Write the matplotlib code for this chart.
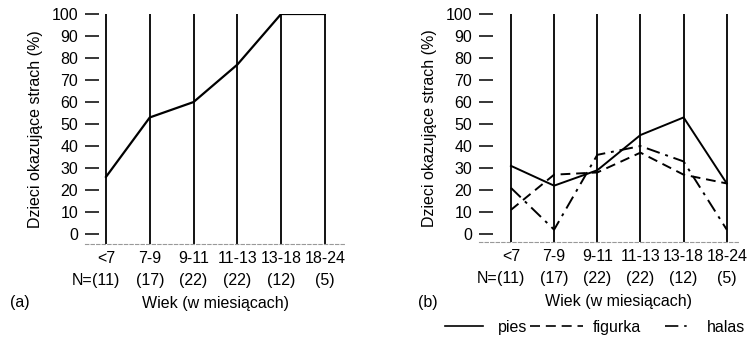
import numpy as np
import matplotlib
matplotlib.use("Agg")
import matplotlib.pyplot as plt
from matplotlib.lines import Line2D

plt.rcParams['font.family'] = ['Liberation Sans', 'DejaVu Sans']

# dane
kategorie = ['<7', '7-9', '9-11', '11-13', '13-18', '18-24']
n_dzieci = [11, 17, 22, 22, 12, 5]
ogolem = [26, 53, 60, 77, 100, 100]
pies = [31, 22, 29, 45, 53, 23]
figurka = [11, 27, 28, 37, 27, 23]
halas = [21, 2, 36, 40, 33, 2]
yticks = [0, 10, 20, 30, 40, 50, 60, 70, 80, 90, 100]

FS = 11.5
W, H = 751, 338

fig = plt.figure(figsize=(7.51, 3.38), dpi=100)
ax1 = fig.add_axes([85 / W, 1 - 244 / H, 260 / W, 230 / H])
ax2 = fig.add_axes([479 / W, 1 - 242 / H, 259 / W, 228 / H])

x = np.arange(len(kategorie))
dash = (0, (5, 3))
dashdot = (0, (7, 3, 1.5, 3))


def przygotuj(ax, xlim, ylo):
    ax.set_xlim(*xlim)
    ax.set_ylim(ylo, 100)
    ax.vlines(x, ylo, 100, color='black', lw=1.3, zorder=1)
    for s in ['top', 'right', 'left']:
        ax.spines[s].set_visible(False)
    ax.spines['bottom'].set_linestyle((0, (3, 2)))
    ax.spines['bottom'].set_color('#999999')
    ax.spines['bottom'].set_linewidth(0.8)
    ax.set_yticks(yticks)
    ax.tick_params(axis='y', direction='in', length=10, width=1.1, pad=5,
                   labelsize=FS)
    ax.tick_params(axis='x', length=0, pad=5, labelsize=FS)
    ax.set_xticks(x)
    ax.set_xticklabels(kategorie)
    ax.set_ylabel('Dzieci okazujące strach (%)', fontsize=FS, labelpad=6)
    for i, n in enumerate(n_dzieci):
        ax.annotate(f'({n})', xy=(i, 0), xycoords=('data', 'axes fraction'),
                    xytext=(0, -26), textcoords='offset points',
                    ha='center', va='center', fontsize=FS)
    ax.annotate('N=', xy=(0, 0), xycoords=('data', 'axes fraction'),
                xytext=(-9.5, -26), textcoords='offset points',
                ha='right', va='center', fontsize=FS)
    ax.annotate('Wiek (w miesiącach)', xy=(2.5, 0),
                xycoords=('data', 'axes fraction'),
                xytext=(0, -42.5), textcoords='offset points',
                ha='center', va='center', fontsize=FS)


przygotuj(ax1, (-0.48, 5.46), -4.5)
ax1.plot(x, ogolem, color='black', lw=1.6, zorder=3)

przygotuj(ax2, (-0.74, 5.26), -3.6)
ax2.plot(x, pies, color='black', lw=1.4, ls='-', zorder=3)
ax2.plot(x, figurka, color='black', lw=1.4, ls=dash, zorder=3)
ax2.plot(x, halas, color='black', lw=1.4, ls=dashdot, zorder=3)

# etykiety (a) i (b)
fig.text(10 / W, 1 - 303 / H, '(a)', fontsize=FS, va='center', ha='left')
fig.text(418 / W, 1 - 303 / H, '(b)', fontsize=FS, va='center', ha='left')

# legenda
ly = 1 - 326 / H
for (x0, x1), styl, (tx, nazwa) in zip(
        [(445, 483), (530, 583), (665, 692)],
        ['-', (0, (6, 3.5)), (0, (8, 3.5, 1.5, 3.5))],
        [(498, 'pies'), (593, 'figurka'), (707, 'halas')]):
    fig.add_artist(Line2D([x0 / W, x1 / W], [ly, ly], color='black',
                          lw=1.2, ls=styl, transform=fig.transFigure))
    fig.text(tx / W, ly, nazwa, fontsize=FS, va='center_baseline',
             ha='left')

fig.savefig('out.png', dpi=100)
